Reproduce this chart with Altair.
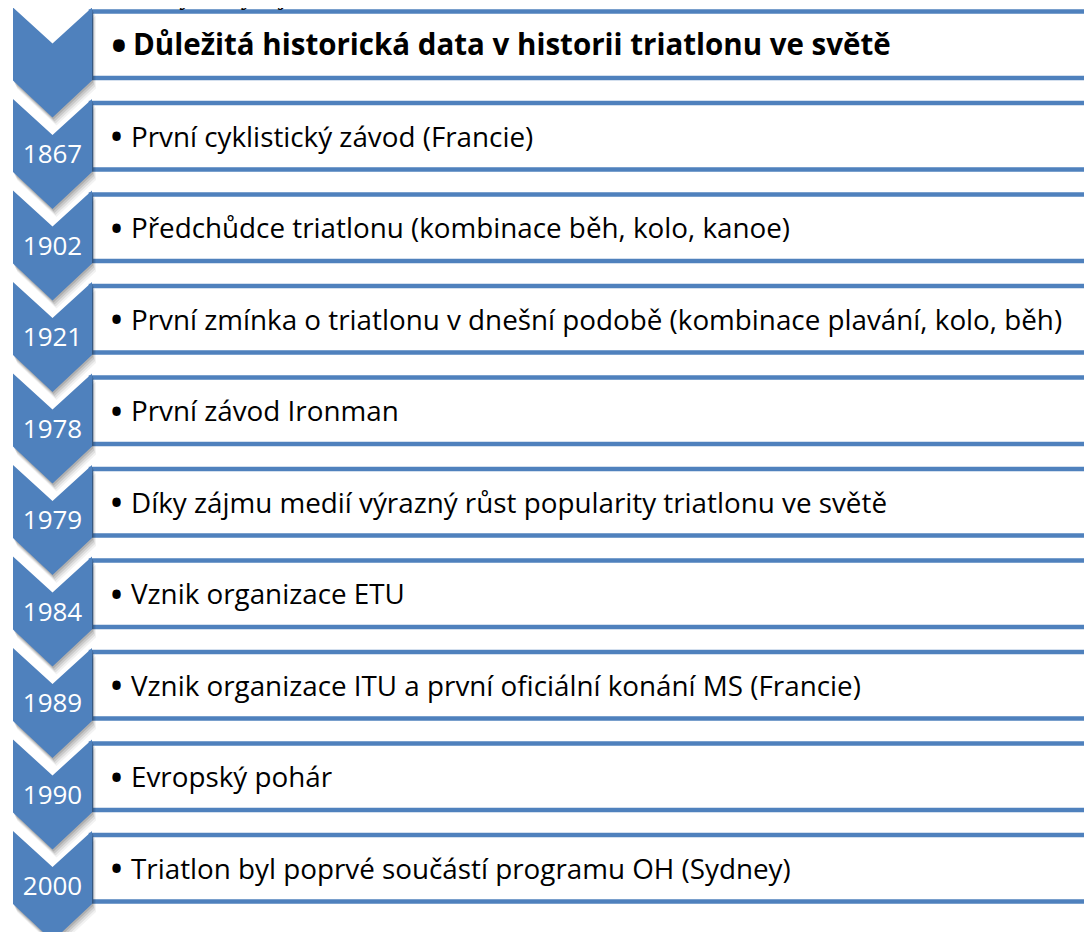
import altair as alt
import pandas as pd

# ---------------- data ----------------
caption_bold = "Graf 1:"
caption_text = "Mezníky ve vývoji triatlonu ve světě"
header = "Důležitá historická data v historii triatlonu ve světě"
years = ["1867", "1902", "1921", "1978", "1979", "1984", "1989", "1990", "2000"]
events = [
    "První cyklistický závod (Francie)",
    "Předchůdce triatlonu (kombinace běh, kolo, kanoe)",
    "První zmínka o triatlonu v dnešní podobě (kombinace plavání, kolo, běh)",
    "První závod Ironman",
    "Díky zájmu medií výrazný růst popularity triatlonu ve světě",
    "Vznik organizace ETU",
    "Vznik organizace ITU a první oficiální konání MS (Francie)",
    "Evropský pohár",
    "Triatlon byl poprvé součástí programu OH (Sydney)",
]

# ---------------- layout (page pixel coordinates) ----------------
W, H = 1076, 924
X0, Y0 = 8, 8
ROW0, STEP = 63.5, 91.5
CL, CR = 13.0, 92.0
CM = (CL + CR) / 2
BLUE = "#4F81BD"
FONT = "Open Sans"

labels = [header] + events
yrs = [""] + years
n = len(labels)

rows = pd.DataFrame({"k": list(range(n)), "label": labels, "year": yrs})
rows["c"] = ROW0 + STEP * rows["k"]
rows["box_top"] = rows["c"] - 52
rows["box_bot"] = rows["c"] + 14.5
rows["box_l"] = 91.0
rows["box_r"] = 1300.0
rows["base_y"] = rows["c"] - 8.3
rows["bullet_y"] = rows["c"] - 16
rows["bullet_x"] = [119.0] + [116.5] * (n - 1)
rows["text_x"] = [133.0] + [131.0] * (n - 1)
rows["head"] = [True] + [False] * (n - 1)
rows["year_x"] = CM

chev = []
for k in range(n):
    c = ROW0 + STEP * k
    for x, edge in [(CL, 1), (CM, 0), (CR, 1)]:
        chev.append({
            "k": k, "x": x,
            "top": c - 56 + 36 * (1 - edge),
            "bot": c + 17 + 37 * (1 - edge),
        })
chev = pd.DataFrame(chev)

xs = alt.Scale(domain=[X0, X0 + W], nice=False, zero=False)
ys = alt.Scale(domain=[Y0, Y0 + H], nice=False, zero=False, reverse=True)


def X(f):
    return alt.X(f"{f}:Q", scale=xs, axis=None)


def Y(f):
    return alt.Y(f"{f}:Q", scale=ys, axis=None)


boxes = alt.Chart(rows).mark_rect(
    fill="white", stroke=BLUE, strokeWidth=4.5, clip=True
).encode(x=X("box_l"), x2="box_r:Q", y=Y("box_top"), y2="box_bot:Q")

shadow_layers = []
for dx, dy, op in [(1, 2, 0.12), (2, 4, 0.10), (3, 6, 0.08), (4, 8, 0.05)]:
    sh = chev.copy()
    sh["x"] = sh["x"] + dx
    sh["top"] = sh["top"] + dy
    sh["bot"] = sh["bot"] + dy
    shadow_layers.append(
        alt.Chart(sh).mark_area(color="#000000", opacity=op, clip=True).encode(
            x=X("x"), y=Y("top"), y2="bot:Q", detail="k:N"
        )
    )

chevrons = alt.Chart(chev).mark_area(color=BLUE, opacity=1, clip=True).encode(
    x=X("x"), y=Y("top"), y2="bot:Q", detail="k:N"
)

year_text = alt.Chart(rows[rows["year"] != ""]).mark_text(
    font=FONT, fontSize=26, color="white", align="center", baseline="middle"
).encode(x=X("year_x"), y=Y("c"), text="year:N")

body = rows[~rows["head"]]
head = rows[rows["head"]]

bullets = alt.Chart(body).mark_text(
    font=FONT, fontSize=40, color="black", align="center", baseline="middle", text="•"
).encode(x=X("bullet_x"), y=Y("bullet_y"))

body_text = alt.Chart(body).mark_text(
    font=FONT, fontSize=27.8, color="black", align="left", baseline="alphabetic"
).encode(x=X("text_x"), y=Y("base_y"), text="label:N")

head_bullet = alt.Chart(head).mark_text(
    font=FONT, fontSize=42, fontWeight="bold", color="black", align="center",
    baseline="middle", text="•"
).encode(x=X("bullet_x"), y=Y("bullet_y"))

head_text = alt.Chart(head).mark_text(
    font=FONT, fontSize=29.5, fontWeight="bold", color="black", align="left",
    baseline="alphabetic"
).encode(x=X("text_x"), y=Y("base_y"), text="label:N")

cap = pd.DataFrame({"x": [0.0, 104.0], "y": [4.0, 4.0],
                    "t": [caption_bold, caption_text]})
cap_b = alt.Chart(cap.iloc[[0]]).mark_text(
    font="Liberation Serif", fontSize=27, fontWeight="bold", color="black",
    align="left", baseline="alphabetic", clip=True
).encode(x=X("x"), y=Y("y"), text="t:N")
cap_i = alt.Chart(cap.iloc[[1]]).mark_text(
    font="Liberation Serif", fontSize=27, fontStyle="italic", color="black",
    align="left", baseline="alphabetic", clip=True
).encode(x=X("x"), y=Y("y"), text="t:N")

chart = alt.layer(
    boxes, *shadow_layers, chevrons, year_text, bullets, body_text,
    head_bullet, head_text, cap_b, cap_i
).properties(
    width=W, height=H, padding=0,
    autosize=alt.AutoSizeParams(type="none"),
    background="white",
).configure_view(stroke=None)

chart.save("out.html", embed_options={"renderer": "svg", "actions": False})
